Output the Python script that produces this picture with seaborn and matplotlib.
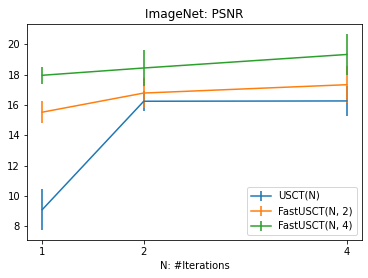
import matplotlib
matplotlib.use("Agg")
import matplotlib.pyplot as plt
import seaborn as sns
from matplotlib.colors import to_rgba

iterations = [1, 2, 4]
series_names = ["USCT(N)", "FastUSCT(N, 2)", "FastUSCT(N, 4)"]
usct_mean = [9.1, 16.24, 16.26]
usct_err = [1.35, 0.65, 0.96]
fast2_mean = [15.52, 16.78, 17.33]
fast2_err = [0.74, 0.96, 1.23]
fast4_mean = [17.95, 18.43, 19.32]
fast4_err = [0.55, 1.18, 1.36]

means = [usct_mean, fast2_mean, fast4_mean]
errs = [usct_err, fast2_err, fast4_err]

plt.rcParams['font.family'] = ['DejaVu Sans']
palette = sns.color_palette("tab10", 3)

fig = plt.figure(figsize=(368/72, 278/72), dpi=72)
ax = fig.add_axes([27/368, 1-240/278, (362-27)/368, (240-24)/278])

for name, m, e, c in zip(series_names, means, errs, palette):
    ax.errorbar(iterations, m, yerr=e, color=c, ecolor=to_rgba(c, 0.8),
                elinewidth=2, linewidth=1.5, capsize=0, label=name)

ax.set_xticks(iterations)
ax.set_xticklabels([str(i) for i in iterations])
ax.set_xlabel("N: #Iterations", fontsize=10)
ax.set_title("ImageNet: PSNR", fontsize=12)
ax.tick_params(labelsize=10)
ax.legend(loc="lower right", fontsize=10)

fig.savefig("out.png", dpi=72)
